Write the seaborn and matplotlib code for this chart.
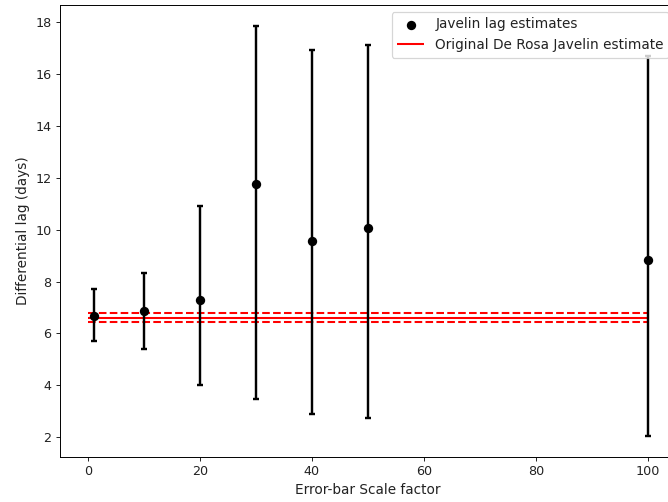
import matplotlib
matplotlib.use("Agg")
import matplotlib.pyplot as plt
import seaborn as sns
import pandas as pd

# Javelin lag estimates for each error-bar scale factor
scale_factor = [1, 10, 20, 30, 40, 50, 100]
lag = [6.67, 6.86, 7.29, 11.77, 9.56, 10.05, 8.84]
err_upper = [1.03, 1.49, 3.63, 6.10, 7.38, 7.06, 7.85]
err_lower = [0.97, 1.45, 3.29, 8.30, 6.66, 7.29, 6.81]

# Original De Rosa Javelin estimate and its uncertainty
derosa_lag = 6.61
derosa_err = 0.18
line_start, line_end = 0, 100

df = pd.DataFrame({"scale": scale_factor, "lag": lag})

sns.set_style("ticks")
plt.rcParams["font.family"] = ["DejaVu Sans"]
plt.rcParams["font.size"] = 10

dpi = 87
fig = plt.figure(figsize=(668 / dpi, 502 / dpi), dpi=dpi)
ax = fig.add_axes([60 / 668, 45 / 502, 616 / 668, 452 / 502])

ax.errorbar(df["scale"], df["lag"], yerr=[err_lower, err_upper],
            fmt="none", ecolor="k", elinewidth=2, capsize=2.5, capthick=2,
            zorder=2)
sns.scatterplot(data=df, x="scale", y="lag", color="k", s=60,
                edgecolor="k", linewidth=0, label="Javelin lag estimates",
                ax=ax, zorder=3)

ax.hlines(derosa_lag, line_start, line_end, colors="red", lw=1.7,
          label="Original De Rosa Javelin estimate", zorder=1)
ax.hlines([derosa_lag + derosa_err, derosa_lag - derosa_err],
          line_start, line_end, colors="red", lw=1.7, linestyles="--",
          zorder=1)

ax.set_xlabel("Error-bar Scale factor", fontsize=11.3, color="#222222")
ax.set_ylabel("Differential lag (days)", fontsize=11.3, color="#222222")
ax.set_xticks([0, 20, 40, 60, 80, 100])
ax.set_yticks([2, 4, 6, 8, 10, 12, 14, 16, 18])
for s in ax.spines.values():
    s.set_visible(True)
    s.set_color("k")
ax.tick_params(colors="#222222", labelcolor="#222222", labelsize=10.5)
leg = ax.legend(loc="upper right", fontsize=11.3)
for t in leg.get_texts():
    t.set_color("#222222")

fig.savefig("out.png", dpi=dpi)
